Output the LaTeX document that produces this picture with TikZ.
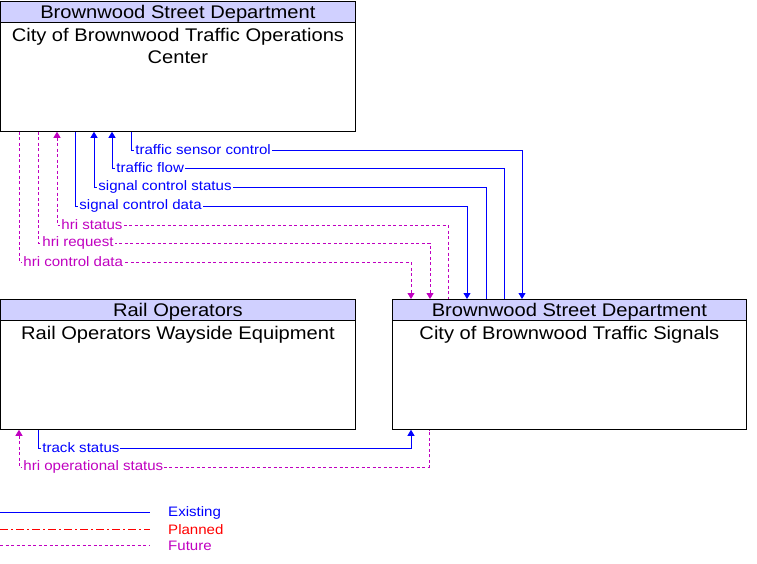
\documentclass[tikz,border=0pt]{standalone}
\usepackage{fontspec}
\setmainfont{Liberation Sans}[FakeStretch=1.1]
\definecolor{HeadFill}{RGB}{208,208,255}
\definecolor{FlowBlue}{RGB}{0,0,255}
\definecolor{FlowMagenta}{RGB}{192,0,192}
\definecolor{FlowRed}{RGB}{255,0,0}
\usetikzlibrary{arrows.meta, calc, positioning}

\begin{document}
\begin{tikzpicture}[x=1pt, y=-1pt,
    ent/.style={draw, fill=white, line width=0.8pt, minimum width=355pt, minimum height=130pt, anchor=north west, inner sep=0pt},
    hdr/.style={draw, fill=HeadFill, line width=0.8pt},
    ttl/.style={font=\fontsize{18.3}{22}\selectfont, inner sep=0pt, align=center},
    lbl/.style={font=\fontsize{13.7}{16}\selectfont, fill=white, inner sep=1pt, anchor=west, xshift=3pt},
    leg/.style={font=\fontsize{13.7}{16}\selectfont, inner sep=0pt, anchor=west},
    exist/.style={FlowBlue, line width=0.8pt},
    future/.style={FlowMagenta, line width=0.8pt, dash pattern=on 3pt off 2.5pt},
    planned/.style={FlowRed, line width=0.8pt, dash pattern=on 8pt off 3pt on 2pt off 3pt},
    tipend/.style={-{Triangle[length=6pt,width=7pt]}},
    tipstart/.style={{Triangle[length=6pt,width=7pt]}-}]
  \useasboundingbox (0,0) rectangle (757,564);

  \node[ent] (toc) at (0,1) {};
  \draw[hdr] (toc.north west) rectangle ($(toc.north east)+(0,21)$);
  \node[ttl] (tocHead) at ($(toc.north)+(0,12.5)$) {Brownwood Street Department};
  \node[ttl, anchor=north] (tocName) at ($(toc.north)+(0,27.5)$) {City of Brownwood Traffic Operations\\Center};

  \node[ent] (rail) at (0,299) {};
  \draw[hdr] (rail.north west) rectangle ($(rail.north east)+(0,21)$);
  \node[ttl] (railHead) at ($(rail.north)+(0,12.5)$) {Rail Operators};
  \node[ttl, anchor=north] (railName) at ($(rail.north)+(0,27.5)$) {Rail Operators Wayside Equipment};

  \node[ent, minimum width=354pt] (sig) at (392,299) {};
  \draw[hdr] (sig.north west) rectangle ($(sig.north east)+(0,21)$);
  \node[ttl] (sigHead) at ($(sig.north)+(0,12.5)$) {Brownwood Street Department};
  \node[ttl, anchor=north] (sigName) at ($(sig.north)+(0,27.5)$) {City of Brownwood Traffic Signals};

  \draw[exist, tipend] ([xshift=131pt]toc.south west) -- ([xshift=131pt]toc.south west |- 0,150) node[lbl] {traffic sensor control} -| ([xshift=130pt]sig.north west);
  \draw[exist, tipstart] ([xshift=112pt]toc.south west) -- ([xshift=112pt]toc.south west |- 0,168) node[lbl] {traffic flow} -| ([xshift=112pt]sig.north west);
  \draw[exist, tipstart] ([xshift=94pt]toc.south west) -- ([xshift=94pt]toc.south west |- 0,187) node[lbl] {signal control status} -| ([xshift=94pt]sig.north west);
  \draw[exist, tipend] ([xshift=75pt]toc.south west) -- ([xshift=75pt]toc.south west |- 0,206) node[lbl] {signal control data} -| ([xshift=75pt]sig.north west);
  \draw[future, tipstart] ([xshift=57pt]toc.south west) -- ([xshift=57pt]toc.south west |- 0,225) node[lbl] {hri status} -| ([xshift=56pt]sig.north west);
  \draw[future, tipend] ([xshift=38pt]toc.south west) -- ([xshift=38pt]toc.south west |- 0,243) node[lbl] {hri request} -| ([xshift=38pt]sig.north west);
  \draw[future, tipend] ([xshift=19pt]toc.south west) -- ([xshift=19pt]toc.south west |- 0,262) node[lbl] {hri control data} -| ([xshift=19pt]sig.north west);

  \draw[exist, tipend] ([xshift=38pt]rail.south west) -- ([xshift=38pt]rail.south west |- 0,448) node[lbl] {track status} -| ([xshift=19pt]sig.south west);
  \draw[future, tipstart] ([xshift=19pt]rail.south west) -- ([xshift=19pt]rail.south west |- 0,467) node[lbl] {hri operational status} -| ([xshift=37pt]sig.south west);

  \coordinate (lgExist) at (0,512);
  \coordinate (lgPlan) at (0,529);
  \coordinate (lgFut) at (0,545);
  \draw[exist] (lgExist) -- ++(150,0);
  \draw[planned] (lgPlan) -- ++(150,0);
  \draw[future] (lgFut) -- ++(150,0);
  \node[leg, FlowBlue] (lgExistTxt) at (168,513) {Existing};
  \node[leg, FlowRed] (lgPlanTxt) at (168,530) {Planned};
  \node[leg, FlowMagenta] (lgFutTxt) at (168,546) {Future};
\end{tikzpicture}
\end{document}
